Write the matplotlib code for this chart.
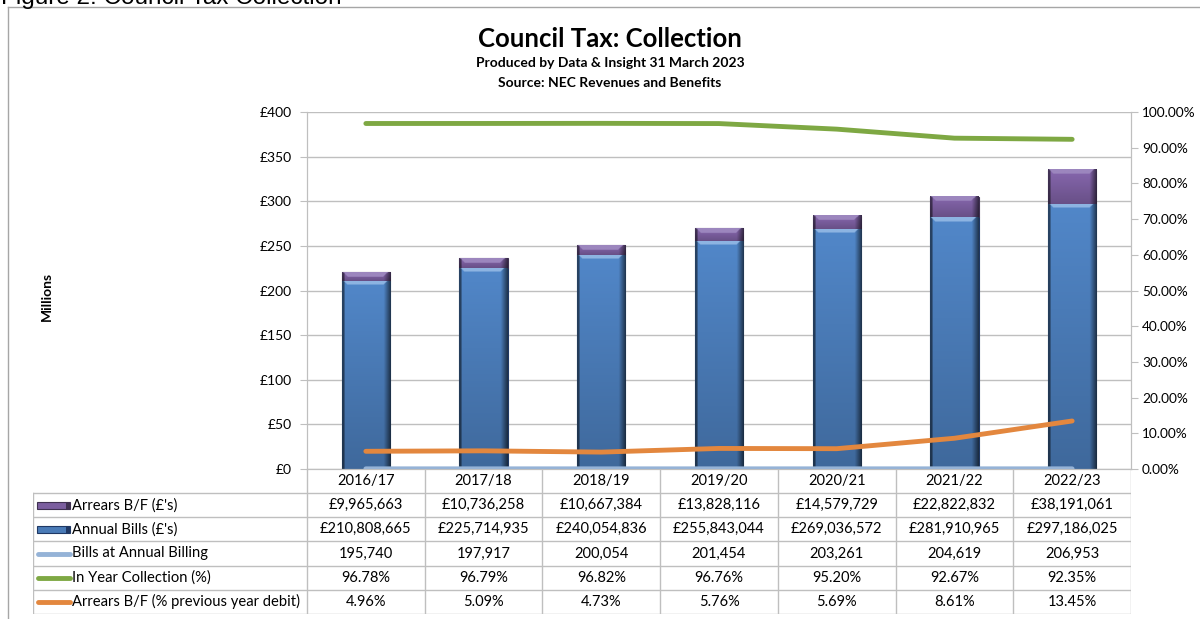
import numpy as np
import matplotlib
matplotlib.use('Agg')
import matplotlib.pyplot as plt
from matplotlib.colors import to_rgb
from matplotlib.lines import Line2D
from matplotlib.patches import Rectangle

plt.rcParams['font.family'] = ['Lato', 'DejaVu Sans']

years = ['2016/17', '2017/18', '2018/19', '2019/20', '2020/21', '2021/22', '2022/23']
arrears = [9965663, 10736258, 10667384, 13828116, 14579729, 22822832, 38191061]
annual_bills = [210808665, 225714935, 240054836, 255843044, 269036572, 281910965, 297186025]
bills_count = [195740, 197917, 200054, 201454, 203261, 204619, 206953]
collection_pct = [96.78, 96.79, 96.82, 96.76, 95.20, 92.67, 92.35]
arrears_pct = [4.96, 5.09, 4.73, 5.76, 5.69, 8.61, 13.45]

row_labels = ["Arrears B/F (£'s)", "Annual Bills (£'s)", "Bills at Annual Billing",
              "In Year Collection (%)", "Arrears B/F (% previous year debit)"]

PURPLE = '#7B5E9F'
BLUE = '#4A7BB7'
LIGHTBLUE = '#95B3D7'
GREEN = '#7EA843'
ORANGE = '#E3873E'
GRID = '#BFBFBF'

W, H = 1200, 619
fig = plt.figure(figsize=(12, 6.19), dpi=100)


def fx(px):
    return px / W


def fy(py):
    return 1 - py / H


# outer frame and the caption clipped at the very top, as in the source
fig.add_artist(Line2D([fx(8), fx(8)], [fy(7), 0], color='#A6A6A6', lw=1))
fig.add_artist(Line2D([fx(8), 1], [fy(7), fy(7)], color='#A6A6A6', lw=1))
fig.text(fx(1), fy(4), 'Figure 2: Council Tax Collection', family='Liberation Sans',
         fontsize=17.5, va='baseline', ha='left')

fig.text(fx(610), fy(39), 'Council Tax: Collection', fontsize=18.5, fontweight='bold',
         ha='center', va='center')
fig.text(fx(610), fy(63), 'Produced by Data & Insight 31 March 2023', fontsize=10,
         fontweight='bold', ha='center', va='center')
fig.text(fx(610), fy(83), 'Source: NEC Revenues and Benefits', fontsize=10,
         fontweight='bold', ha='center', va='center')
fig.text(fx(47), fy(296), 'Millions', fontsize=10, fontweight='bold', rotation=90,
         ha='center', va='center')

L, R, T, B = 307, 1131, 112, 469
ax = fig.add_axes([fx(L), fy(B), fx(R - L), (B - T) / H])
ax2 = ax.twinx()

x = np.arange(len(years))
annual_m = np.array(annual_bills) / 1e6
arrears_m = np.array(arrears) / 1e6
count_m = np.array(bills_count) / 1e6

bw = 0.41
b1 = ax.bar(x, annual_m, width=bw, color=BLUE, edgecolor='#1F3864', lw=0.8, zorder=2)
b2 = ax.bar(x, arrears_m, width=bw, bottom=annual_m, color=PURPLE, edgecolor='#3F3151',
            lw=0.8, zorder=2)

ppx = (B - T) / 400.0            # pixels per million
cpx = (R - L) / 7.0              # pixels per category


def bevel(base, hpx, wpx, top_light):
    nr = max(int(hpx * 2), 4)
    nc = max(int(wpx * 2), 4)
    yy = np.linspace(0, hpx, nr)[:, None]
    xx = np.linspace(0, wpx, nc)[None, :]
    c = np.array(to_rgb(base))
    vert = 1.1 - 0.25 * (yy / max(hpx, 1))
    horiz = np.ones_like(xx)
    horiz = np.where(xx > wpx - 7, 0.4 + 0.6 * (wpx - xx) / 7, horiz)
    horiz = np.where(xx < 2.5, 0.5, horiz)
    f = vert * horiz
    img = np.clip(c[None, None, :] * f[:, :, None], 0, 1)
    bev = (yy < 4.5) & (xx > yy + 1) & (xx < wpx - yy - 3)
    light = np.array(to_rgb(top_light))
    img = np.where(bev[:, :, None], light[None, None, :], img)
    return img


for bars, base, top in [(b1, BLUE, '#8DB4E2'), (b2, PURPLE, '#9C86BE')]:
    for p in bars:
        x0, y0, w, h = p.get_x(), p.get_y(), p.get_width(), p.get_height()
        img = bevel(base, h * ppx, w * cpx, top)
        ax.imshow(img, extent=(x0, x0 + w, y0, y0 + h), origin='upper', aspect='auto',
                  interpolation='bilinear', zorder=2.5)

ax.plot(x, count_m, color=LIGHTBLUE, lw=3.5, solid_capstyle='round', zorder=3)
ax2.plot(x, np.array(collection_pct) / 100, color=GREEN, lw=3.5, solid_capstyle='round')
ax2.plot(x, np.array(arrears_pct) / 100, color=ORANGE, lw=3.5, solid_capstyle='round')

ax.set_xlim(-0.5, 6.5)
ax.set_ylim(0, 400)
ax2.set_ylim(0, 1.0)
ax.set_yticks(np.arange(0, 401, 50))
ax.set_yticklabels(['£{:d}'.format(v) for v in range(0, 401, 50)])
ax2.set_yticks(np.arange(0, 1.01, 0.1))
ax2.set_yticklabels(['{:.2f}%'.format(v * 100) for v in np.arange(0, 1.01, 0.1)])
ax.set_xticks([])
ax.yaxis.grid(True, color=GRID, lw=1)
ax.set_axisbelow(True)
for a in (ax, ax2):
    for s in a.spines.values():
        s.set_color(GRID)
    a.spines['top'].set_visible(False)
ax.tick_params(axis='y', length=5, color=GRID, pad=6, labelsize=10)
ax2.tick_params(axis='y', length=5, color=GRID, pad=3, labelsize=9.8)

# data table below the plot
tL, tR, tT, tB = 33, 1131, 469, 614
tax = fig.add_axes([fx(tL), fy(tB), fx(tR - tL), (tB - tT) / H])
tax.set_xlim(tL, tR)
tax.set_ylim(tB, tT)
tax.axis('off')
edges = L + np.arange(len(years) + 1) * cpx
rows_y = np.linspace(493, 614, 6)
head_y = (469 + 493) / 2
for e in edges:
    tax.plot([e, e], [tT, tB], color=GRID, lw=1)
tax.plot([tL, tL], [rows_y[0], tB], color=GRID, lw=1)
for ry in rows_y:
    tax.plot([tL, tR], [ry, ry], color=GRID, lw=1)
for i, yr in enumerate(years):
    tax.text((edges[i] + edges[i + 1]) / 2, head_y, yr, ha='center', va='center', fontsize=10.5)

cells = [
    ['£{:,}'.format(v) for v in arrears],
    ['£{:,}'.format(v) for v in annual_bills],
    ['{:,}'.format(v) for v in bills_count],
    ['{:.2f}%'.format(v) for v in collection_pct],
    ['{:.2f}%'.format(v) for v in arrears_pct],
]
for r, vals in enumerate(cells):
    cy = (rows_y[r] + rows_y[r + 1]) / 2
    for i, v in enumerate(vals):
        tax.text((edges[i] + edges[i + 1]) / 2, cy, v, ha='center', va='center', fontsize=10.5)
    tax.text(72, cy, row_labels[r], ha='left', va='center', fontsize=10.6)

# legend keys inside the table
for r, (base, dark) in enumerate([(PURPLE, '#3F3151'), (BLUE, '#1F3864')]):
    cy = (rows_y[r] + rows_y[r + 1]) / 2
    tax.add_patch(Rectangle((37, cy - 3.5), 33, 7, facecolor=base, edgecolor=dark, lw=0.8))
    tax.add_patch(Rectangle((66, cy - 3.5), 4, 7, facecolor=dark, edgecolor='none'))
for r, col in [(2, LIGHTBLUE), (3, GREEN), (4, ORANGE)]:
    cy = (rows_y[r] + rows_y[r + 1]) / 2
    tax.plot([38, 70], [cy, cy], color=col, lw=3.5, solid_capstyle='round')

fig.savefig('out.png', dpi=100)
